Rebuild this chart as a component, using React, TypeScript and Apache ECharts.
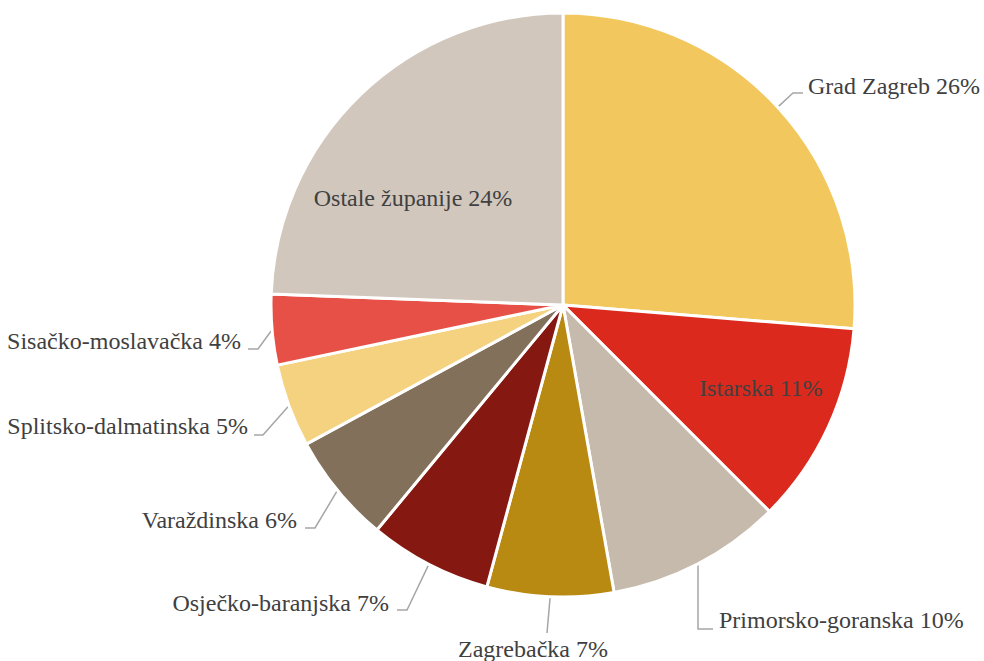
import React, { useEffect, useRef } from "react";
import * as echarts from "echarts";

const categories = [
  "Grad Zagreb",
  "Istarska",
  "Primorsko-goranska",
  "Zagrebačka",
  "Osječko-baranjska",
  "Varaždinska",
  "Splitsko-dalmatinska",
  "Sisačko-moslavačka",
  "Ostale županije",
];
const values = [26.3, 11.2, 9.7, 7.0, 6.8, 6.1, 4.6, 3.9, 24.4];
const labelPercents = [26, 11, 10, 7, 7, 6, 5, 4, 24];
const colors = [
  "#F2C85E",
  "#DB2A1D",
  "#C6BAAC",
  "#B98A11",
  "#851912",
  "#82705B",
  "#F4D27F",
  "#E65046",
  "#D2C7BD",
];

// label placement (text anchor + label-line elbow points), pixels
type Placement = { x: number; y: number; align: string; line: number[][] | null };
const placements: Placement[] = [
  { x: 808, y: 86, align: "left", line: [[793, 93], [803, 93]] },
  { x: 761, y: 388, align: "center", line: null },
  { x: 719, y: 620, align: "left", line: [[698, 629], [713, 629]] },
  { x: 533, y: 649, align: "center", line: [[547, 633]] },
  { x: 389, y: 603, align: "right", line: [[407, 610], [397, 610]] },
  { x: 297, y: 520, align: "right", line: [[315, 528], [305, 528]] },
  { x: 248, y: 426, align: "right", line: [[263, 435], [254, 435]] },
  { x: 241, y: 341, align: "right", line: [[258, 349], [248, 349]] },
  { x: 413, y: 198, align: "center", line: null },
];

export default function App() {
  const ref = useRef<HTMLDivElement>(null);
  useEffect(() => {
    if (!ref.current) return;
    const chart = echarts.init(ref.current, undefined, { renderer: "svg" });
    const data = categories.map((name, i) => {
      const item: any = { name, value: values[i], itemStyle: { color: colors[i] } };
      if (!placements[i].line) {
        item.label = { position: "inside" };
        item.labelLine = { show: false };
      }
      return item;
    });
    chart.setOption({
      animation: false,
      backgroundColor: "#ffffff",
      series: [
        {
          type: "pie",
          center: [563, 305],
          radius: [0, 292],
          startAngle: 90,
          clockwise: true,
          avoidLabelOverlap: false,
          data,
          itemStyle: { borderColor: "#ffffff", borderWidth: 3 },
          label: {
            show: true,
            position: "outside",
            color: "#404040",
            fontFamily: "Liberation Serif",
            fontSize: 24,
            formatter: (p: any) => `${p.name} ${labelPercents[p.dataIndex]}%`,
          },
          labelLine: {
            show: true,
            length: 18,
            length2: 10,
            lineStyle: { color: "#A6A6A6", width: 1.5 },
          },
          labelLayout: (params: any) => {
            const pl = placements[params.dataIndex];
            const out: any = {
              x: pl.x,
              y: pl.y,
              align: pl.align,
              verticalAlign: "middle",
            };
            if (pl.line && params.labelLinePoints && params.labelLinePoints[0]) {
              out.labelLinePoints = [params.labelLinePoints[0], ...pl.line];
            }
            return out;
          },
        },
      ],
    });
    return () => chart.dispose();
  }, []);
  return (
    <div
      ref={ref}
      style={{ position: "fixed", left: 0, top: 0, width: 984, height: 661 }}
    />
  );
}
